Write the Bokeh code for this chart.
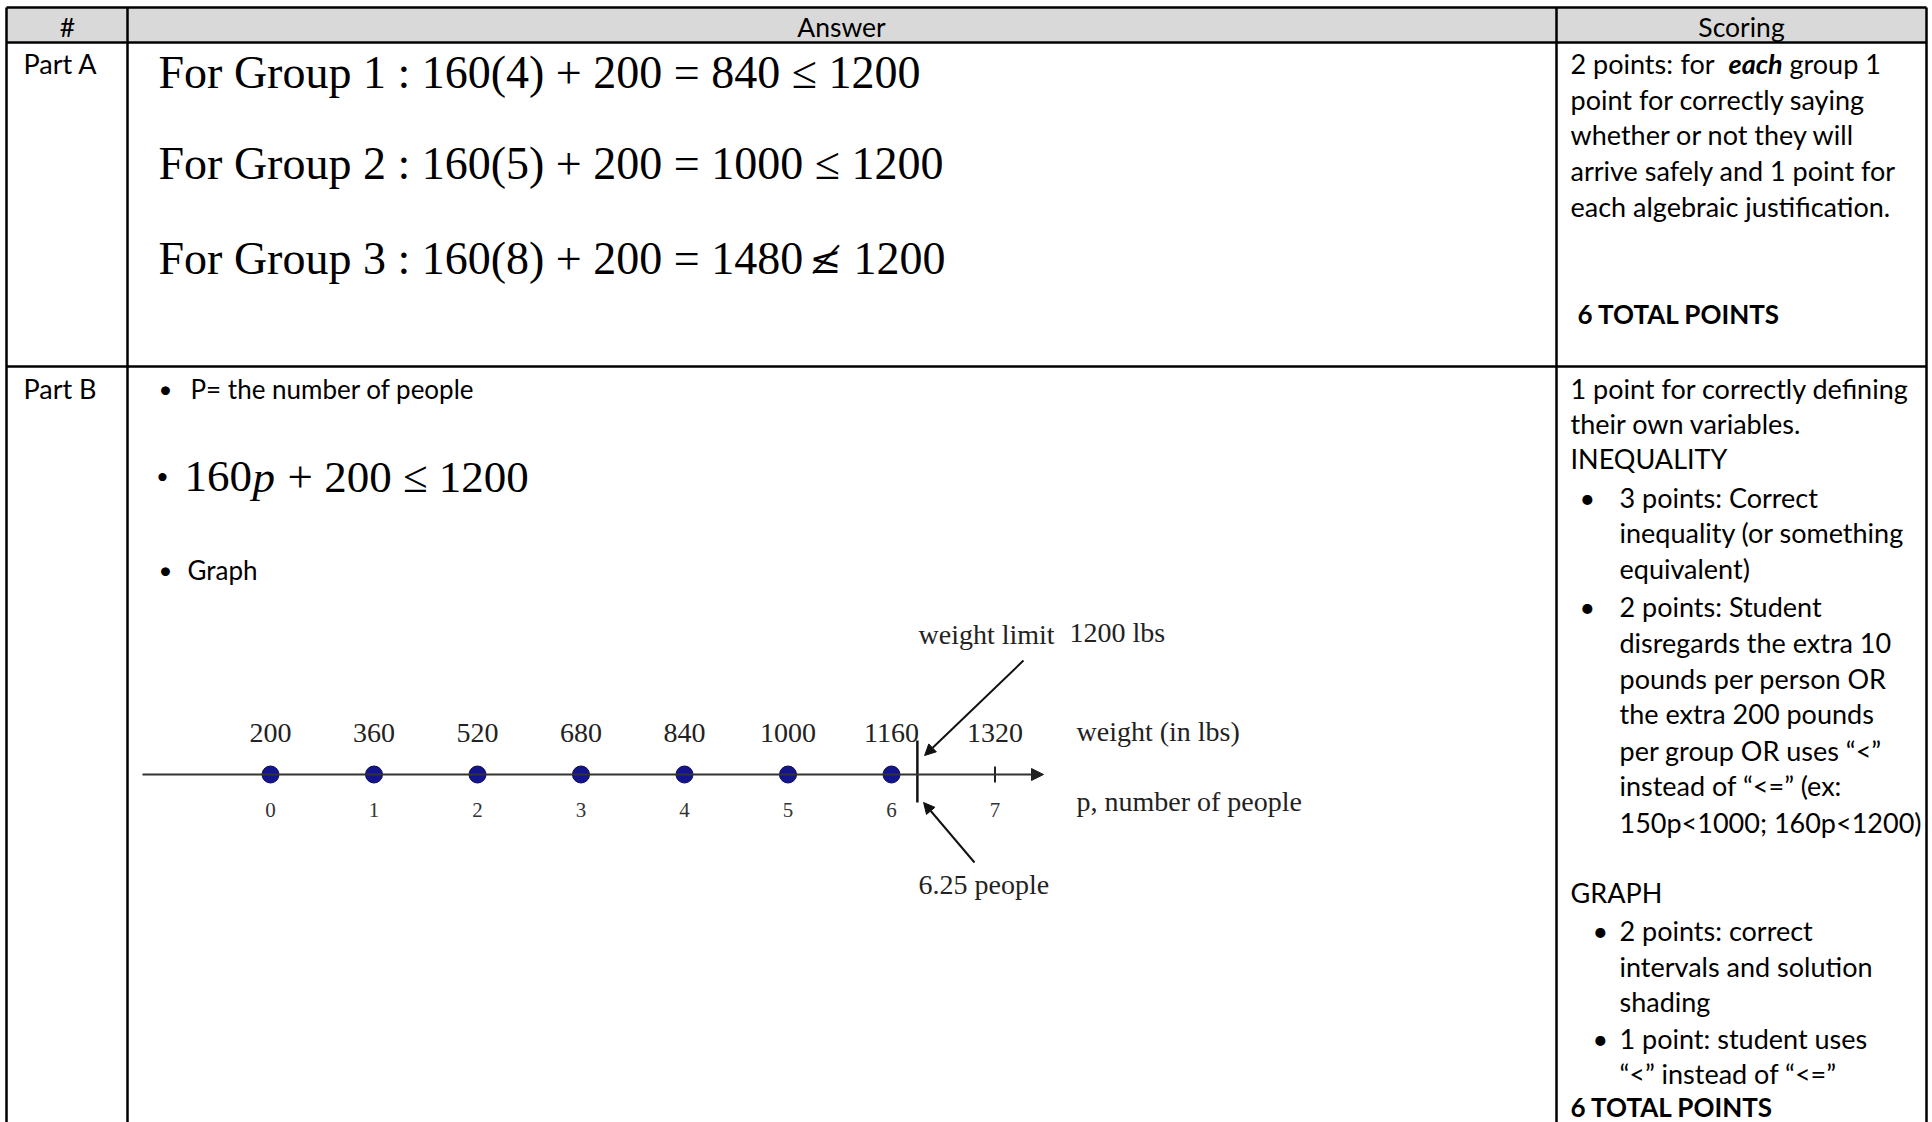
from bokeh.plotting import figure
from bokeh.models import Range1d, Arrow, NormalHead
from bokeh.core.properties import value
from bokeh.embed import file_html
from bokeh.resources import INLINE

# ---------------- data ----------------
per_person = 160          # lbs per person (150 + 10)
base_weight = 200         # extra lbs per group
weight_limit = 1200       # lbs
people = [0, 1, 2, 3, 4, 5, 6]                 # solution dots
p_ticks = [0, 1, 2, 3, 4, 5, 6, 7]             # number-line ticks
weight_labels = ["200", "360", "520", "680", "840", "1000", "1160", "1320"]
limit_people = (weight_limit - base_weight) / per_person   # 6.25

header_labels = ["#", "Answer", "Scoring"]
row_labels = ["Part A", "Part B"]
group_lines = [
    "For Group 1 : 160(4) + 200 = 840 \u2264 1200",
    "For Group 2 : 160(5) + 200 = 1000 \u2264 1200",
]
group3_left = "For Group 3 : 160(8) + 200 = 1480"
group3_rel = "\u2270"
group3_right = "1200"
scoring_a = [
    "point for correctly saying",
    "whether or not they will",
    "arrive safely and 1 point for",
    "each algebraic justification.",
]
scoring_b_plain = [
    "1 point for correctly defining",
    "their own variables.",
    "INEQUALITY",
]
scoring_b_ineq = [
    "3 points: Correct",
    "inequality (or something",
    "equivalent)",
    "2 points: Student",
    "disregards the extra 10",
    "pounds per person OR",
    "the extra 200 pounds",
    "per group OR uses \u201c<\u201d",
    "instead of \u201c<=\u201d (ex:",
    "150p<1000; 160p<1200)",
]
scoring_b_graph = [
    "2 points: correct",
    "intervals and solution",
    "shading",
    "1 point: student uses",
    "\u201c<\u201d instead of \u201c<=\u201d",
]

# ---------------- layout (reference pixels) ----------------
W, H = 1932, 1122
P0_PX = 270.0   # px of p = 0
DX = 103.5      # px per person


def X(px):
    return (px - P0_PX) / DX


def Y(py):
    return py


p = figure(width=W, height=H, x_range=Range1d(X(0), X(W)),
           y_range=Range1d(H, 0), output_backend="svg", toolbar_location=None,
           x_axis_location=None, y_axis_location=None, min_border=0)
p.grid.visible = False
p.outline_line_color = None
p.background_fill_color = "white"
p.border_fill_color = "white"

SANS = "Lato"
SERIF = "Liberation Serif"
FS = 27


def txt(xs, ys, texts, font, size, style="normal", align="left", color="black", data_x=False):
    xx = list(xs) if data_x else [X(v) for v in xs]
    p.text(x=xx, y=[Y(v) for v in ys], text=texts, text_font=value(font),
           text_font_size=f"{size}px", text_font_style=style, text_align=align,
           text_baseline="middle", text_color=color)


# table frame
L, C1, C2, R = 6, 127, 1556, 1926
T, HB, RA, BOT = 7, 42, 366, 1140
p.quad(left=[X(L)], right=[X(R)], top=[Y(T)], bottom=[Y(HB)], fill_color="#d9d9d9", line_color=None)
hx0 = [L, L, L, L, C1, C2, R]
hx1 = [R, R, R, L, C1, C2, R]
hy0 = [T, HB, RA, T, T, T, T]
hy1 = [T, HB, RA, BOT, BOT, BOT, BOT]
p.segment(x0=[X(v) for v in hx0], y0=[Y(v) for v in hy0], x1=[X(v) for v in hx1],
          y1=[Y(v) for v in hy1], line_color="black", line_width=2.5)

# header
txt([67, 841, 1741], [26, 26, 26], header_labels, SANS, 26.5, align="center")
# row labels
txt([23, 23], [63, 388], row_labels, SANS, FS)

# Part A math
txt([158, 158], [72, 163], group_lines, SERIF, 46)
txt([158], [258], [group3_left], SERIF, 46)
txt([825], [259], [group3_rel], "DejaVu Serif", 38, align="center")
txt([853], [258], [group3_right], SERIF, 46)

# Part A scoring
txt([1570], [63], ["2 points:"], SANS, FS)
txt([1680], [63], ["for"], SANS, FS)
txt([1728], [63], ["each"], SANS, FS, style="bold italic")
txt([1789], [63], ["group 1"], SANS, FS)
txt([1570] * 4, [99, 134, 170, 206], scoring_a, SANS, FS)
txt([1577], [313], ["6 TOTAL POINTS"], SANS, 26, style="bold")

# Part B answer bullets
txt([158], [388], ["\u2022"], SANS, 24)
txt([190], [388], ["P= the number of people"], SANS, 26)
txt([156], [477], ["\u2022"], SERIF, 34)
txt([184], [476], ["160"], SERIF, 45)
txt([252], [476], ["p"], SERIF, 45, style="italic")
txt([287], [476], ["+ 200 \u2264 1200"], SERIF, 45)
txt([158], [569], ["\u2022"], SANS, 24)
txt([187], [569], ["Graph"], SANS, 26)

# Part B scoring
txt([1570] * 3, [388, 423, 458], scoring_b_plain, SANS, FS)
txt([1579, 1579], [497, 606], ["\u2022", "\u2022"], SANS, FS)
txt([1619] * 10, [497, 532, 568, 606, 642, 678, 713, 750, 785, 822], scoring_b_ineq, SANS, FS)
txt([1570], [892], ["GRAPH"], SANS, FS)
txt([1592, 1592], [930, 1038], ["\u2022", "\u2022"], SANS, FS)
txt([1619] * 5, [930, 966, 1001, 1038, 1073], scoring_b_graph, SANS, FS)
txt([1570], [1106], ["6 TOTAL POINTS"], SANS, 26, style="bold")

# ---------------- number line ----------------
LINE_Y = Y(774)
p.add_layout(Arrow(end=NormalHead(size=12, fill_color="#222222", line_color="#222222"),
                   x_start=X(142), y_start=LINE_Y, x_end=X(1043), y_end=LINE_Y,
                   line_color="#333333", line_width=2))
# tick at 7
p.segment(x0=[p_ticks[-1]], y0=[LINE_Y - 8], x1=[p_ticks[-1]], y1=[LINE_Y + 8],
          line_color="#222222", line_width=2)
# limit bar
p.segment(x0=[limit_people], y0=[Y(740)], x1=[limit_people], y1=[Y(802)],
          line_color="#111111", line_width=2.5)
# dots
p.scatter(x=people, y=[LINE_Y] * len(people), size=17, fill_color="#14148c",
          line_color="#0a0a5a", line_width=1)
# labels
txt(p_ticks, [732] * len(p_ticks), weight_labels, SERIF, 28, align="center", color="#222222", data_x=True)
txt(p_ticks, [809] * len(p_ticks), [str(v) for v in p_ticks], SERIF, 21, align="center", color="#333333", data_x=True)

# annotations
txt([918], [634], ["weight limit"], SERIF, 28, color="#222222")
txt([1069], [632], ["1200 lbs"], SERIF, 28, color="#222222")
txt([1076], [731], ["weight (in lbs)"], SERIF, 28, color="#222222")
txt([1076], [801], ["p, number of people"], SERIF, 28, color="#222222")
txt([918], [884], ["6.25 people"], SERIF, 28, color="#222222")

p.add_layout(Arrow(end=NormalHead(size=11, fill_color="#111111", line_color="#111111"),
                   x_start=X(1023), y_start=Y(660), x_end=limit_people + 0.07, y_end=Y(755),
                   line_color="#111111", line_width=2))
p.add_layout(Arrow(end=NormalHead(size=11, fill_color="#111111", line_color="#111111"),
                   x_start=X(974), y_start=Y(862), x_end=limit_people + 0.06, y_end=Y(802),
                   line_color="#111111", line_width=2))

open("out.html", "w").write(file_html(p, INLINE))
